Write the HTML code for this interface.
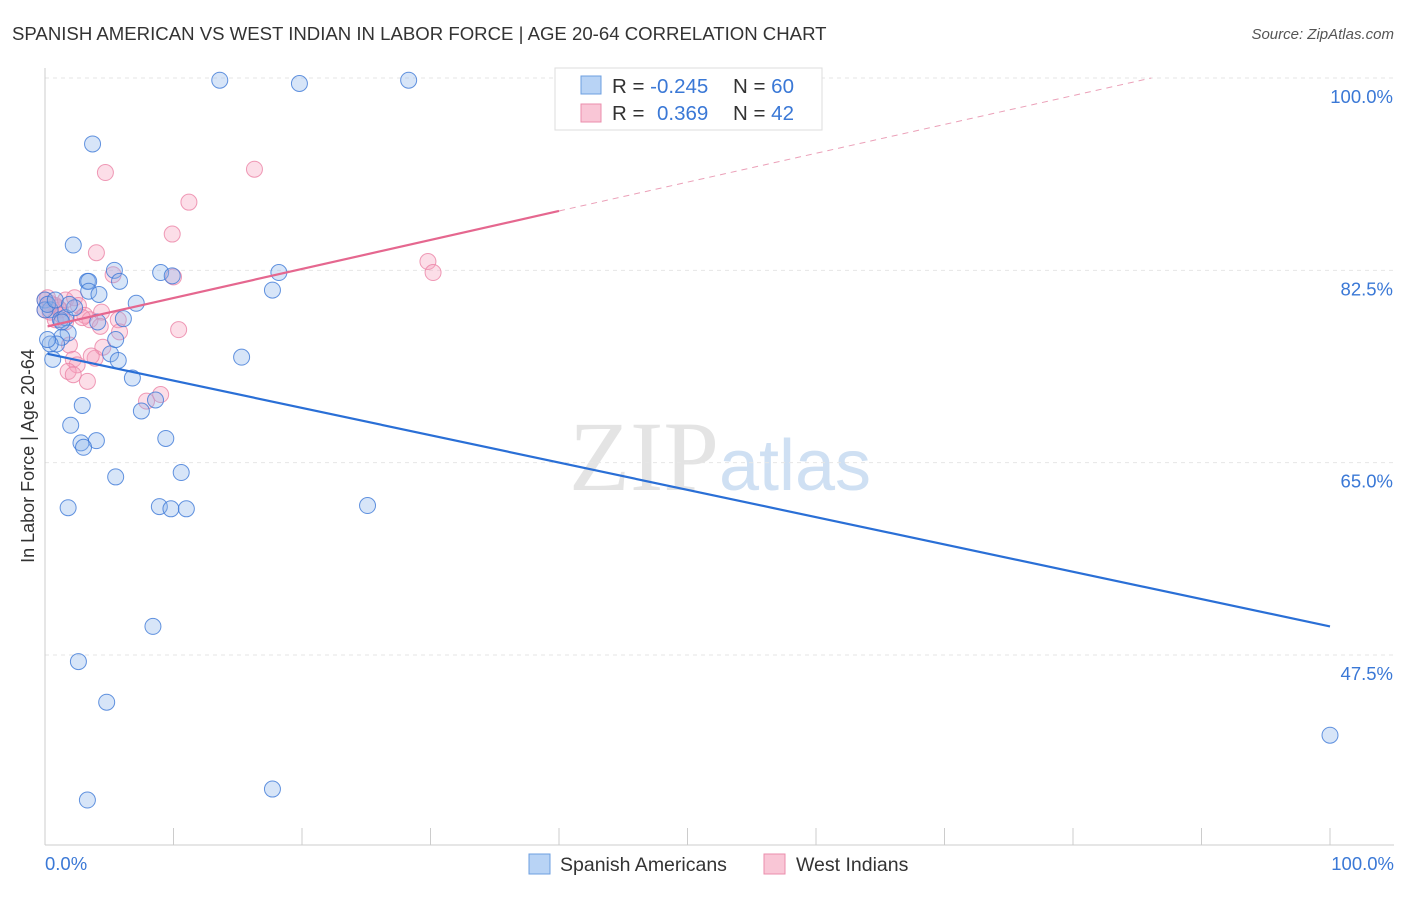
<!DOCTYPE html>
<html><head><meta charset="utf-8"><style>
body{margin:0;background:#fff;font-family:"Liberation Sans",sans-serif;}
</style></head><body>
<svg id="c" width="1406" height="892" xmlns="http://www.w3.org/2000/svg" font-family="Liberation Sans, sans-serif">
<text x="12" y="40" font-size="18.6" fill="#333">SPANISH AMERICAN VS WEST INDIAN IN LABOR FORCE | AGE 20-64 CORRELATION CHART</text>
<text x="1394" y="39" font-size="15" fill="#555" text-anchor="end" font-style="italic">Source: ZipAtlas.com</text>
<text x="720" y="490" font-size="100" fill="#e4e4e4" text-anchor="middle" font-family="Liberation Serif, serif">ZIP<tspan fill="#cfe0f3" font-family="Liberation Sans, sans-serif" font-size="72">atlas</tspan></text>
<g id="grid"></g><g id="axes"></g><g id="pts"></g><g id="lines"></g>
<text x="34" y="456" font-size="18" fill="#333" text-anchor="middle" transform="rotate(-90 34 456)">In Labor Force | Age 20-64</text>
<text x="45" y="870" font-size="18.5" fill="#3a78d6">0.0%</text>
<text x="1394" y="870" font-size="18.5" fill="#3a78d6" text-anchor="end">100.0%</text>
<g>
<rect x="555" y="68" width="267" height="62" fill="#fff" stroke="#ddd"/>
<rect x="581" y="76" width="20" height="18" fill="#b8d3f5" stroke="#6d9fe0"/>
<rect x="581" y="104" width="20" height="18" fill="#f9c6d6" stroke="#eb8eac"/>
<text x="612" y="93" font-size="20.5" fill="#333">R = <tspan fill="#3a78d6">-0.245</tspan><tspan x="733">N = </tspan><tspan fill="#3a78d6">60</tspan></text>
<text x="612" y="120" font-size="20.5" fill="#333">R = <tspan x="657" fill="#3a78d6">0.369</tspan><tspan x="733">N = </tspan><tspan fill="#3a78d6">42</tspan></text>
</g>
<g>
<rect x="529" y="854" width="21" height="20" fill="#b8d3f5" stroke="#6d9fe0"/>
<text x="560" y="871" font-size="19.5" fill="#333">Spanish Americans</text>
<rect x="764" y="854" width="21" height="20" fill="#f9c6d6" stroke="#eb8eac"/>
<text x="796" y="871" font-size="19.5" fill="#333">West Indians</text>
</g>
</svg>
<script>
const yTicks=[100,82.5,65,47.5];
const yTickLabels=["100.0%","82.5%","65.0%","47.5%"];
const blueX=[13.6,19.8,28.3,3.7,2.2,5.4,3.3,3.4,5.8,9.0,9.9,18.2,17.7,3.4,4.2,7.1,0,0.4,1.2,1.6,2.3,6.1,4.1,1.8,1.3,0.9,0.4,0.6,5.1,5.7,5.5,6.8,15.3,2.9,7.5,8.6,2.0,9.4,4.0,2.8,3.0,10.6,5.5,1.8,8.9,9.8,11.0,25.1,8.4,2.6,4.8,3.3,17.7,100,0,0.2,0.8,0.2,1.3,1.9];
const blueY=[99.8,99.5,99.8,94.0,84.8,82.5,81.5,81.5,81.5,82.3,82.0,82.3,80.7,80.6,80.3,79.5,79.8,78.9,78.0,78.2,79.1,78.1,77.8,76.8,76.4,75.8,75.8,74.4,74.9,74.3,76.2,72.7,74.6,70.2,69.7,70.7,68.4,67.2,67.0,66.8,66.4,64.1,63.7,60.9,61.0,60.8,60.8,61.1,50.1,46.9,43.2,34.3,35.3,40.2,78.9,79.4,79.8,76.2,77.8,79.4];
const pinkX=[4.7,16.3,11.2,9.9,4.0,5.3,10.0,29.8,30.2,0,0.4,0.8,1.2,1.6,2.3,2.6,3.1,3.5,4.4,5.7,4.3,5.8,10.4,0.8,1.6,1.9,2.2,2.5,3.9,4.5,3.6,1.8,2.2,3.3,7.9,9.0,0,0.4,1.0,2.9,0.2,1.3];
const pinkY=[91.4,91.7,88.7,85.8,84.1,82.1,81.9,83.3,82.3,79.8,79.5,79.3,78.9,79.8,80.0,79.3,78.4,78.0,78.7,78.0,77.4,76.9,77.1,78.0,77.8,75.7,74.4,73.9,74.5,75.5,74.7,73.3,73.0,72.4,70.6,71.2,78.9,78.7,79.1,78.2,80.0,78.4];
const blueLine=[[0.2,74.9],[100,50.1]];
const pinkSolid=[[0.2,77.4],[40,87.9]];
const pinkDash=[[40,87.9],[86.1,100]];
const X=v=>45+v*12.85, Y=v=>78+(100-v)*10.99;
const NS="http://www.w3.org/2000/svg";
function mk(p,t,a){const e=document.createElementNS(NS,t);for(const k in a)e.setAttribute(k,a[k]);document.getElementById(p).appendChild(e);return e;}
yTicks.forEach((t,i)=>{
 const l=mk('grid','line',{x1:45,x2:1394,y1:Y(t),y2:Y(t),stroke:'#e6e6e6','stroke-dasharray':'4 4'});
 
 
 const tx=mk('grid','text',{x:1393,y:Y(t)+25,'font-size':18.5,fill:'#3a78d6','text-anchor':'end'});
 tx.textContent=yTickLabels[i];
 
 
});
let ax=mk('axes','line',{x1:45,x2:45,y1:68,y2:845,stroke:'#ccc'});


ax=mk('axes','line',{x1:45,x2:1394,y1:845,y2:845,stroke:'#ccc'});


for(let i=1;i<=10;i++){const t=mk('axes','line',{x1:X(i*10),x2:X(i*10),y1:828,y2:845,stroke:'#ccc'});
 
 }
pinkX.forEach((x,i)=>{const c=mk('pts','circle',{cx:X(x),cy:Y(pinkY[i]),r:8,fill:'rgba(245,160,190,0.35)',stroke:'rgba(235,130,165,0.8)','stroke-width':1});
 
 });
blueX.forEach((x,i)=>{const c=mk('pts','circle',{cx:X(x),cy:Y(blueY[i]),r:8,fill:'rgba(140,180,235,0.35)',stroke:'rgba(60,120,215,0.8)','stroke-width':1});
 
 });
let ln=mk('lines','line',{x1:X(blueLine[0][0]),y1:Y(blueLine[0][1]),x2:X(blueLine[1][0]),y2:Y(blueLine[1][1]),stroke:'#2a6fd6','stroke-width':2.2});


ln=mk('lines','line',{x1:X(pinkSolid[0][0]),y1:Y(pinkSolid[0][1]),x2:X(pinkSolid[1][0]),y2:Y(pinkSolid[1][1]),stroke:'#e5678f','stroke-width':2.2});


ln=mk('lines','line',{x1:X(pinkDash[0][0]),y1:Y(pinkDash[0][1]),x2:X(pinkDash[1][0]),y2:Y(pinkDash[1][1]),stroke:'#eba0b8','stroke-width':1,'stroke-dasharray':'6 5'});


</script>
</body></html>
